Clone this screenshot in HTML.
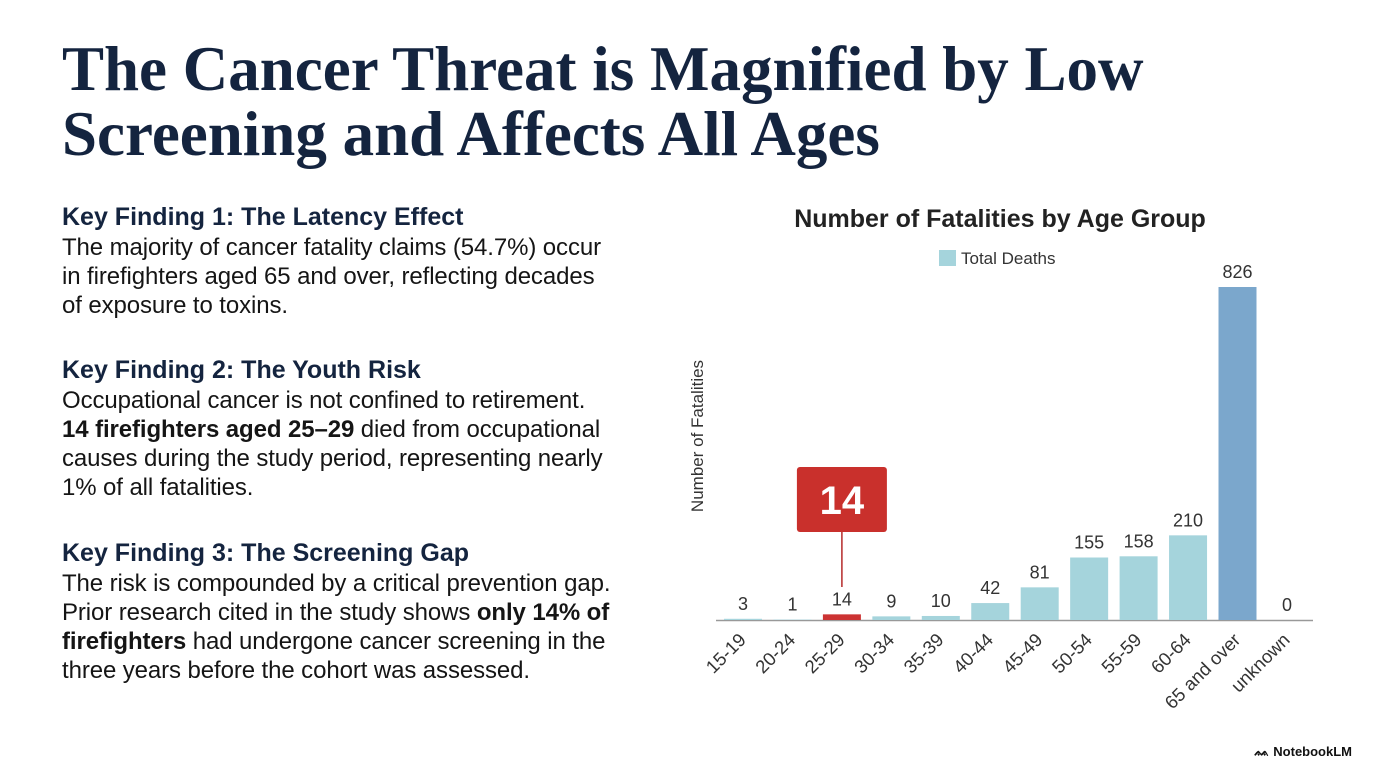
<!DOCTYPE html>
<html><head><meta charset="utf-8"><style>
body{margin:0;width:1376px;height:768px;background:#fff;overflow:hidden;position:relative;font-family:"Liberation Sans",sans-serif}
h1{position:absolute;left:62px;top:37px;margin:0;font-family:"Liberation Serif",serif;font-weight:bold;font-size:63px;line-height:65px;color:#14243f;letter-spacing:0px;white-space:nowrap}
.txt{position:absolute;left:62px;width:640px;font-size:24px;line-height:29px;color:#151515;white-space:nowrap;letter-spacing:-0.1px}
.txt h2{margin:0 0 1px 0;font-size:25px;line-height:30px;color:#14243f;font-weight:bold;letter-spacing:0}
.txt p{margin:0}
#logo{position:absolute;right:24px;top:744px;font-size:13px;font-weight:bold;color:#111}
</style></head><body>
<h1>The Cancer Threat is Magnified by Low<br>Screening and Affects All Ages</h1>
<div class="txt" style="top:202px"><h2>Key Finding 1: The Latency Effect</h2><p>The majority of cancer fatality claims (54.7%) occur<br>in firefighters aged 65 and over, reflecting decades<br>of exposure to toxins.</p></div>
<div class="txt" style="top:355px"><h2>Key Finding 2: The Youth Risk</h2><p>Occupational cancer is not confined to retirement.<br><b>14 firefighters aged 25–29</b> died from occupational<br>causes during the study period, representing nearly<br>1% of all fatalities.</p></div>
<div class="txt" style="top:538px"><h2>Key Finding 3: The Screening Gap</h2><p>The risk is compounded by a critical prevention gap.<br>Prior research cited in the study shows <b>only 14% of<br>firefighters</b> had undergone cancer screening in the<br>three years before the cohort was assessed.</p></div>
<svg id="chart" width="1376" height="768" style="position:absolute;left:0;top:0">
<text x="1000" y="227" text-anchor="middle" font-size="25" font-weight="bold" fill="#222">Number of Fatalities by Age Group</text>
<rect x="939" y="250" width="17" height="16" fill="#a5d4dc"/>
<text x="961" y="264" font-size="17" fill="#333">Total Deaths</text>
<text transform="translate(703,436) rotate(-90)" text-anchor="middle" font-size="17" fill="#333">Number of Fatalities</text>
<line x1="716" y1="620.5" x2="1313" y2="620.5" stroke="#999" stroke-width="1.5"/>
<g id="bars"></g>
</svg>
<div id="logo">ᨐ NotebookLM</div>
<script>
const categories=["15-19","20-24","25-29","30-34","35-39","40-44","45-49","50-54","55-59","60-64","65 and over","unknown"];
const values=[3,1,14,9,10,42,81,155,158,210,826,0];
const highlightIndex=2;
const maxIndex=10;
const g=document.getElementById('bars');
const NS='http://www.w3.org/2000/svg';
const base=620, yscale=333/826, x0=743, step=49.45, bw=38;
const xPos=i=>x0+i*step;
const yPos=v=>base-v*yscale;
function mk(t,a){const e=document.createElementNS(NS,t);for(const k in a)e.setAttribute(k,a[k]);g.appendChild(e);return e;}
categories.forEach((c,i)=>{
  const v=values[i],cx=xPos(i);
  const fill=i===highlightIndex?'#cc3333':(i===maxIndex?'#7ba7cc':'#a5d4dc');
  const r=mk('rect',{x:cx-bw/2,y:yPos(v),width:bw,height:Math.max(0,base-yPos(v)),fill:fill});
  
  
  const t=mk('text',{x:cx,y:yPos(v)-9,'text-anchor':'middle','font-size':18,fill:'#333'});
  t.textContent=v;
  
  
  const l=mk('text',{transform:`translate(${cx+4},${641}) rotate(-45)`,'text-anchor':'end','font-size':18.5,fill:'#333'});
  l.textContent=c;
  
  
});
const hx=xPos(highlightIndex);
const ln=mk('line',{x1:hx,y1:532,x2:hx,y2:587,stroke:'#b52a2a','stroke-width':1.5});


const box=mk('rect',{x:hx-45,y:467,width:90,height:65,rx:3,fill:'#c9302c'});


const bt=mk('text',{x:hx,y:514,'text-anchor':'middle','font-size':40,'font-weight':'bold',fill:'#fff'});
bt.textContent=values[highlightIndex];


</script>
</body></html>
